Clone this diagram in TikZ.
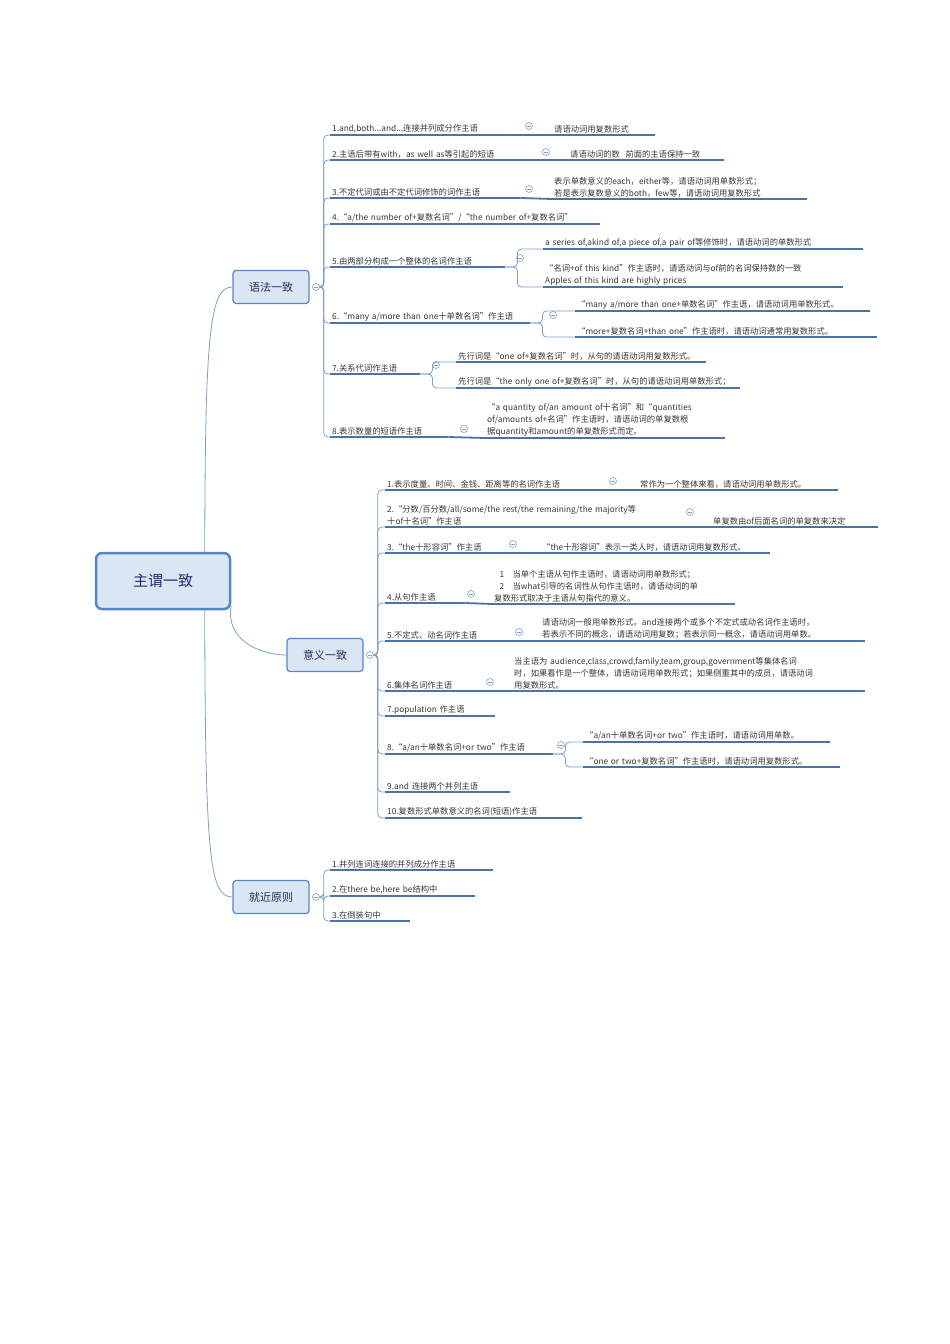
\documentclass[tikz,border=0pt]{standalone}
\usepackage{fontspec}
\setmainfont{Noto Sans CJK SC}
\definecolor{lineblue}{RGB}{75,115,165}
\definecolor{twigblue}{RGB}{125,160,200}
\definecolor{boxfill}{RGB}{218,230,244}
\definecolor{boxline}{RGB}{85,135,200}
\definecolor{inkgray}{RGB}{55,55,55}
\tikzset{
  topic/.style={anchor=south west, inner xsep=2pt, inner ysep=1.5pt, align=left,
    text=inkgray, font=\fontsize{8.3}{12}\selectfont,
    append after command={(\tikzlastnode.south west) edge[uline] (\tikzlastnode.south east)}},
  uline/.style={draw=lineblue, line width=1.8pt},
  branch/.style={draw=twigblue, line width=0.8pt, rounded corners=4pt},
  fold/.style={circle, draw=twigblue, fill=white, line width=0.6pt, inner sep=0pt, minimum size=7pt,
    path picture={\draw[twigblue, line width=0.6pt] ([xshift=-2pt]path picture bounding box.center) -- ([xshift=2pt]path picture bounding box.center);}},
  mainbox/.style={draw=boxline, fill=boxfill, rounded corners=3pt, line width=1.2pt,
    minimum width=76pt, minimum height=33pt, text=inkgray!80!blue, font=\fontsize{11}{13}\selectfont},
}
\begin{document}
\begin{tikzpicture}[x=1pt,y=-1pt]
\useasboundingbox (0,0) rectangle (950,1344);

% centre
\node[draw=boxline, fill=boxfill, rounded corners=6pt, line width=2.5pt, minimum width=134pt,
  minimum height=56pt, text=inkgray!70!blue, font=\fontsize{15}{17}\selectfont] (root) at (163,581) {主谓一致};
\node[mainbox] (yufa) at (271,287) {语法一致};
\node[mainbox] (yiyi) at (325,655) {意义一致};
\node[mainbox] (jiujin) at (271,897) {就近原则};
\draw[branch] (root.35) .. controls (205,330) and (210,287) .. (yufa.west);
\draw[branch] (root.-20) .. controls (225,640) and (260,655) .. (yiyi.west);
\draw[branch] (root.-35) .. controls (205,860) and (210,897) .. (jiujin.west);
\node[fold] (yc) at (316,287) {};
\node[fold] (mc) at (370,655) {};
\node[fold] (nc) at (316,897) {};

% 语法一致
\node[topic, text width=186pt] (g1) at (330,135) {1.and,both...and...连接并列成分作主语};
\node[topic, text width=196pt] (g2) at (330,160) {2.主语后带有with，as well as等引起的短语};
\node[topic, text width=186pt] (g3) at (330,198) {3.不定代词或由不定代词修饰的词作主语};
\node[topic, text width=266pt] (g4) at (330,224) {4.“a/the number of+复数名词”/“the number of+复数名词”};
\node[topic, text width=171pt] (g5) at (330,267) {5.由两部分构成一个整体的名词作主语};
\node[topic, text width=196pt] (g6) at (330,323) {6.“many a/more than one十单数名词”作主语};
\node[topic, text width=86pt] (g7) at (330,374) {7.关系代词作主语};
\node[topic, text width=114pt] (g8) at (330,437) {8.表示数量的短语作主语};
\foreach \i in {1,...,8} \draw[branch] (yc.east) -- ++(4,0) |- (g\i.south west);

\node[topic, text width=99pt] (g1a) at (552,135) {请语动词用复数形式};
\node[topic, text width=152pt] (g2a) at (568,160) {请语动词的数\ \ 前面的主语保持一致};
\node[topic, text width=251pt] (g3a) at (552,199) {表示单数意义的each，either等，请语动词用单数形式；\\若是表示复数意义的both，few等，请语动词用复数形式};
\node[topic, text width=316pt] (g5a) at (543,249) {a series of,akind of,a piece of,a pair of等修饰时，请语动词的单数形式};
\node[topic, text width=296pt] (g5b) at (543,287) {“名词+of this kind”作主语时，请语动词与of前的名词保持数的一致\\Apples of this kind are highly prices};
\node[topic, text width=291pt] (g6a) at (575,311) {“many a/more than one+单数名词”作主语，请语动词用单数形式。};
\node[topic, text width=298pt] (g6b) at (575,337) {“more+复数名词+than one”作主语时，请语动词通常用复数形式。};
\node[topic, text width=246pt] (g7a) at (456,362) {先行词是“one of+复数名词”时，从句的请语动词用复数形式。};
\node[topic, text width=280pt] (g7b) at (456,388) {先行词是“the only one of+复数名词”时，从句的请语动词用单数形式；};
\node[topic, text width=236pt] (g8a) at (485,438) {“a quantity of/an amount of十名词”和“quantities\\of/amounts of+名词”作主语时，请语动词的单复数根\\据quantity和amount的单复数形式而定。};
\node[fold] (g1c) at (529,126) {};
\node[fold] (g2c) at (546,152) {};
\node[fold] (g3c) at (529,189) {};
\node[fold] (g5c) at (520,258) {};
\node[fold] (g6c) at (553,315) {};
\node[fold] (g7c) at (436,365) {};
\node[fold] (g8c) at (464,429) {};
\draw[uline] (g1.south east) -- (g1a.south west);
\draw[uline] (g2.south east) -- (g2a.south west);
\draw[uline] (g3.south east) -- (g3a.south west);
\draw[uline] (g8.south east) -- (g8a.south west);
\foreach \p/\q in {g5/g5a, g5/g5b, g6/g6a, g6/g6b, g7/g7a, g7/g7b}
  \draw[branch] (\p.south east) -- ++(12,0) |- (\q.south west);

% 意义一致
\node[topic, text width=211pt] (m1) at (385,490) {1.表示度量、时间、金钱、距离等的名词作主语};
\node[topic, text width=291pt] (m2) at (385,527) {2.“分数/百分数/all/some/the rest/the remaining/the majority等\\十of十名词”作主语};
\node[topic, text width=116pt] (m3) at (385,553) {3.“the十形容词”作主语};
\node[topic, text width=76pt] (m4) at (385,603) {4.从句作主语};
\node[topic, text width=121pt] (m5) at (385,641) {5.不定式、动名词作主语};
\node[topic, text width=91pt] (m6) at (385,691) {6.集体名词作主语};
\node[topic, text width=106pt] (m7) at (385,716) {7.population 作主语};
\node[topic, text width=164pt] (m8) at (385,754) {8.“a/an十单数名词+or two”作主语};
\node[topic, text width=121pt] (m9) at (385,792) {9.and 连接两个并列主语};
\node[topic, text width=193pt] (m10) at (385,818) {10.复数形式单数意义的名词(短语)作主语};
\foreach \i in {1,...,10} \draw[branch] (mc.east) -- ++(4,0) |- (m\i.south west);

\node[topic, text width=196pt] (m1a) at (638,490) {常作为一个整体来看，请语动词用单数形式。};
\node[topic, text width=163pt] (m2a) at (711,527) {单复数由of后面名词的单复数来决定};
\node[topic, text width=226pt] (m3a) at (540,553) {“the十形容词”表示一类人时，请语动词用复数形式。};
\node[topic, text width=239pt] (m4a) at (492,604) {\ \ 1\ \ \ 当单个主语从句作主语时，请语动词用单数形式；\\\ \ 2\ \ \ 当what引导的名词性从句作主语时，请语动词的单\\复数形式取决于主语从句指代的意义。};
\node[topic, text width=321pt] (m5a) at (540,641) {请语动词一般用单数形式。and连接两个或多个不定式或动名词作主语时，\\若表示不同的概念，请语动词用复数；若表示同一概念，请语动词用单数。};
\node[topic, text width=349pt] (m6a) at (512,691) {当主语为 audience,class,crowd,family,team,group,government等集体名词\\时，如果看作是一个整体，请语动词用单数形式；如果侧重其中的成员，请语动词\\用复数形式。};
\node[topic, text width=243pt] (m8a) at (583,742) {“a/an十单数名词+or two”作主语时，请语动词用单数。};
\node[topic, text width=253pt] (m8b) at (583,767) {“one or two+复数名词”作主语时，请语动词用复数形式。};
\node[fold] (m1c) at (613,481) {};
\node[fold] (m2c) at (690,512) {};
\node[fold] (m3c) at (513,544) {};
\node[fold] (m4c) at (471,594) {};
\node[fold] (m5c) at (519,632) {};
\node[fold] (m6c) at (490,682) {};
\node[fold] (m8c) at (561,745) {};
\foreach \i in {1,...,6} \draw[uline] (m\i.south east) -- (m\i a.south west);
\draw[branch] (m8.south east) -- ++(12,0) |- (m8a.south west);
\draw[branch] (m8.south east) -- ++(12,0) |- (m8b.south west);

% 就近原则
\node[topic, text width=159pt] (n1) at (330,870) {1.并列连词连接的并列成分作主语};
\node[topic, text width=141pt] (n2) at (330,896) {2.在there be,here be结构中};
\node[topic, text width=76pt] (n3) at (330,921) {3.在倒装句中};
\foreach \i in {1,2,3} \draw[branch] (nc.east) -- ++(4,0) |- (n\i.south west);
\end{tikzpicture}
\end{document}
